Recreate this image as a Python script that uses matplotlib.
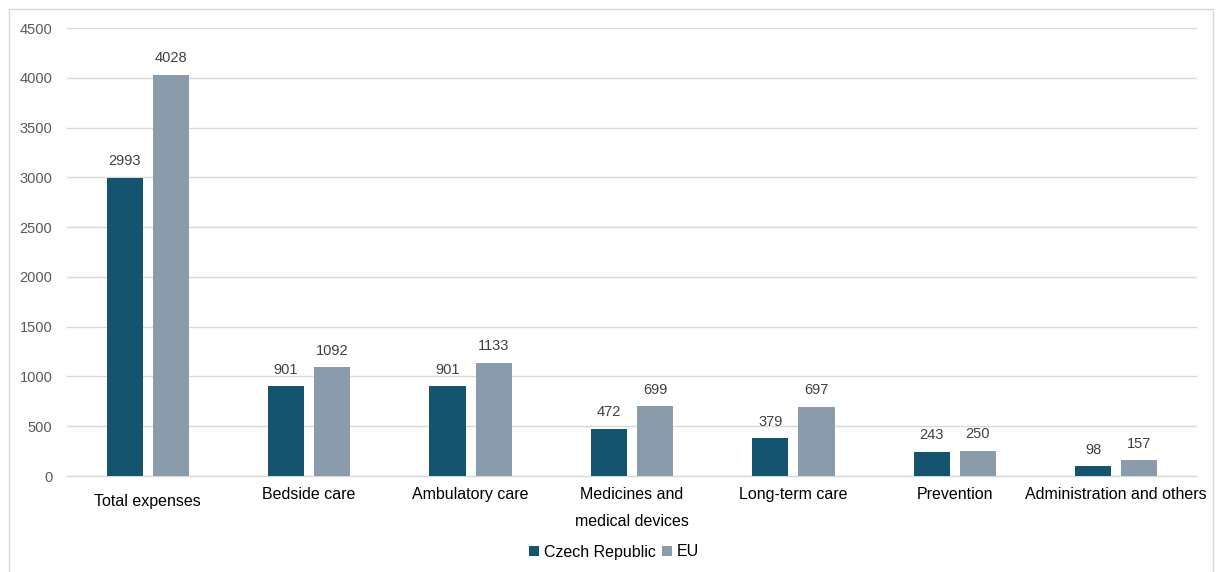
import matplotlib
matplotlib.use("Agg")
import matplotlib.pyplot as plt
from matplotlib.patches import Rectangle
import numpy as np

plt.rcParams['font.family'] = ['Liberation Sans', 'DejaVu Sans']

categories = ["Total expenses", "Bedside care", "Ambulatory care", "Medicines and\nmedical devices",
              "Long-term care", "Prevention", "Administration and others"]
czech = [2993, 901, 901, 472, 379, 243, 98]
eu = [4028, 1092, 1133, 699, 697, 250, 157]
series_names = ["Czech Republic", "EU"]
yticks = [0, 500, 1000, 1500, 2000, 2500, 3000, 3500, 4000, 4500]

c_cz = "#14546E"
c_eu = "#8A9BAB"

W, H = 1217, 572
fig = plt.figure(figsize=(W/100, H/100), dpi=100)
ax = fig.add_axes([67/W, 1-476/H, (1197-67)/W, (476-28)/H])

x = np.arange(len(categories))
bw = 0.224
off = 0.143
b1 = ax.bar(x - off, czech, bw, color=c_cz, label=series_names[0], zorder=3)
b2 = ax.bar(x + off, eu, bw, color=c_eu, label=series_names[1], zorder=3)

for bars in (b1, b2):
    for r in bars:
        ax.annotate(f"{int(r.get_height())}", (r.get_x()+r.get_width()/2, r.get_height()),
                    xytext=(0, 7), textcoords="offset points", ha="center", va="bottom",
                    fontsize=10.5, color="#404040")

ax.set_xlim(-0.5, len(categories)-0.5)
ax.set_ylim(0, 4500)
ax.set_yticks(yticks)
ax.set_yticklabels([str(v) for v in yticks], fontsize=10.5, color="#595959")
ax.set_xticks(x)
ax.set_xticklabels(categories, fontsize=11.5, color="#000000", linespacing=2.0, va="top")
ax.tick_params(axis='both', length=0)
ax.tick_params(axis='y', pad=10.5)
ax.tick_params(axis='x', pad=8)
xt = ax.xaxis.get_major_ticks()
xt[0].set_pad(13)
ax.grid(axis='y', color="#D9D9D9", linewidth=1, zorder=0)
for s in ['top', 'right', 'left']:
    ax.spines[s].set_visible(False)
ax.spines['bottom'].set_color("#D9D9D9")
ax.spines['bottom'].set_linewidth(1)

leg = fig.legend(handles=[b1, b2], labels=series_names, loc='center', bbox_to_anchor=(614/W, 1-552/H),
                 ncol=2, frameon=False, fontsize=11.5, handlelength=0.65, handleheight=0.65,
                 handletextpad=0.3, columnspacing=0.4)

fig.patches.append(Rectangle((9/W, -0.01), (1213-9)/W, 1-9/H+0.01, transform=fig.transFigure,
                             fill=False, edgecolor="#D9D9D9", linewidth=1))

fig.savefig("out.png", dpi=100)
